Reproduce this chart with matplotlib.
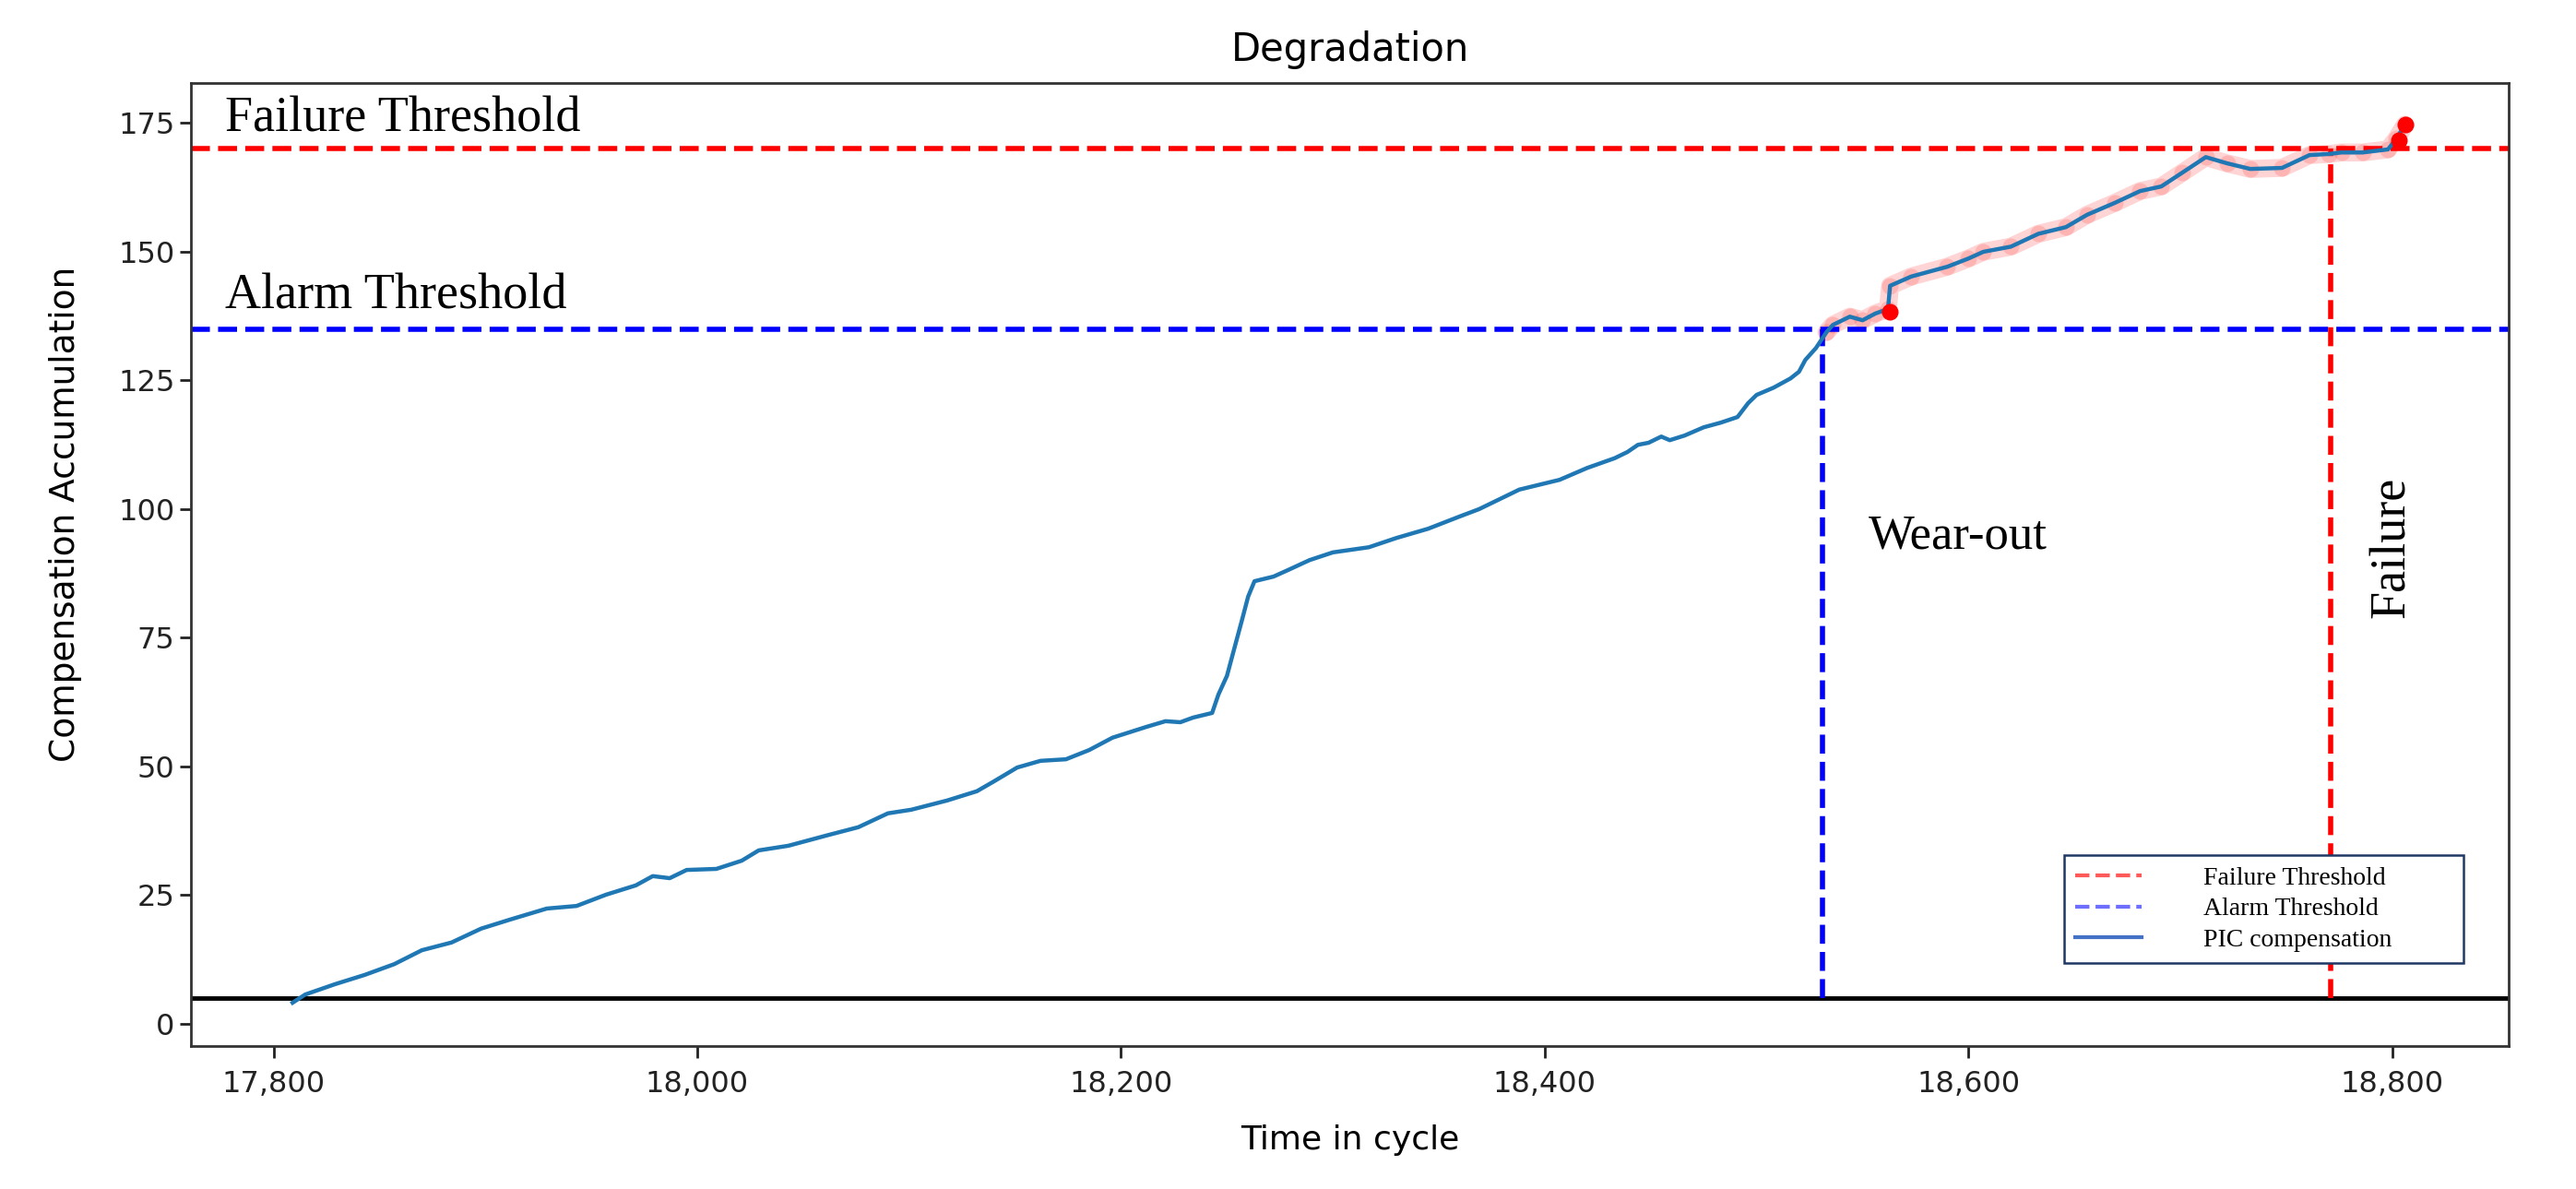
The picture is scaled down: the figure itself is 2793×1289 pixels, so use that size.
import matplotlib
matplotlib.use("Agg")
import matplotlib.pyplot as plt
from matplotlib.lines import Line2D
from matplotlib.ticker import StrMethodFormatter

# values
cycles = [17809, 17815, 17829, 17843, 17857, 17870, 17884, 17898, 17912, 17929,
          17943, 17957, 17971, 17979, 17987, 17995, 18009, 18021, 18029, 18043,
          18062, 18076, 18090, 18101, 18118, 18132, 18140, 18151, 18162, 18174,
          18185, 18196, 18212, 18221, 18228, 18234, 18243, 18246, 18250, 18253,
          18257, 18260, 18263, 18272, 18279, 18289, 18300, 18317, 18330, 18345,
          18360, 18369, 18388, 18407, 18420, 18433, 18439, 18444, 18449, 18455,
          18459, 18466, 18475, 18483, 18491, 18496, 18500, 18508, 18516, 18520,
          18523, 18528, 18533, 18536, 18544, 18550, 18556, 18562, 18563, 18573,
          18590, 18600, 18607, 18620, 18633, 18646, 18656, 18669, 18681, 18691,
          18701, 18712, 18722, 18733, 18748, 18761, 18770, 18776, 18786, 18798,
          18802, 18806]
compensation = [4.1, 5.7, 7.7, 9.5, 11.6, 14.3, 15.8, 18.5, 20.3, 22.4,
                22.9, 25.1, 26.9, 28.7, 28.3, 29.9, 30.1, 31.7, 33.7, 34.6,
                36.7, 38.2, 40.9, 41.6, 43.4, 45.2, 47.1, 49.8, 51.1, 51.4,
                53.2, 55.6, 57.7, 58.8, 58.6, 59.5, 60.4, 64.0, 67.6, 72.2,
                78.3, 83.0, 86.0, 86.9, 88.2, 90.1, 91.6, 92.6, 94.4, 96.2,
                98.6, 100.0, 103.8, 105.7, 108.0, 109.9, 111.1, 112.5, 112.9, 114.1,
                113.4, 114.3, 115.9, 116.8, 117.9, 120.6, 122.2, 123.6, 125.4, 126.7,
                129.0, 131.3, 134.4, 135.8, 137.4, 136.7, 138.0, 138.9, 143.4, 145.2,
                147.1, 148.7, 150.0, 151.0, 153.5, 154.8, 157.2, 159.5, 161.8, 162.7,
                165.4, 168.4, 167.2, 166.1, 166.3, 168.8, 169.0, 169.3, 169.3, 169.9,
                172.0, 174.7]

failure_threshold = 170
alarm_threshold = 135
baseline = 5
alarm_cycle = 18531
failure_cycle = 18771
event_cycles = [18563, 18806, 18803]
event_values = [138.4, 174.7, 171.6]
legend_labels = ['Failure Threshold', 'Alarm Threshold', 'PIC compensation']

fig = plt.figure(figsize=(27.93, 12.89), dpi=100)
ax = fig.add_axes([0.0741, 0.1203, 0.8998, 0.8099])

# highlighted part after alarm crossing
after_x = [c for c in cycles if c >= alarm_cycle]
after_y = compensation[len(cycles) - len(after_x):]
ax.plot(after_x, after_y, color='red', alpha=0.17, linewidth=14, solid_capstyle='round')
ax.plot(after_x, after_y, 'o', color='red', alpha=0.15, markersize=13, markeredgewidth=0)

ax.plot(cycles, compensation, color='#1f77b4', linewidth=3.2, zorder=3)
ax.plot(event_cycles, event_values, 'o', color='red', markersize=12, zorder=4)

ax.axhline(failure_threshold, color='red', linestyle='--', linewidth=4)
ax.axhline(alarm_threshold, color='blue', linestyle='--', linewidth=4)
ax.axhline(baseline, color='black', linewidth=3.5)
ax.plot([alarm_cycle, alarm_cycle], [baseline, alarm_threshold], color='blue', linestyle='--', linewidth=4)
ax.plot([failure_cycle, failure_cycle], [baseline, failure_threshold], color='red', linestyle='--', linewidth=4)

ax.set_xlim(17761, 18855)
ax.set_ylim(-4.3, 182.8)
ax.xaxis.set_major_formatter(StrMethodFormatter('{x:,.0f}'))
ax.tick_params(labelsize=23, length=9, width=2, colors='#222222')
ax.tick_params(axis='x', pad=10)
for s in ax.spines.values():
    s.set_linewidth(2)
    s.set_color('#333333')

ax.set_title('Degradation', fontsize=30, pad=17)
ax.set_xlabel('Time in cycle', fontsize=26, labelpad=20)
ax.set_ylabel('Compensation Accumulation', fontsize=27)
ax.yaxis.set_label_coords(-0.047, 0.552)

# annotations (serif, like the original overlay)
serif = 'Liberation Serif'
ax.text(17777, 173.3, 'Failure Threshold', family=serif, fontsize=39, va='baseline')
ax.text(17777, 138.9, 'Alarm Threshold', family=serif, fontsize=39, va='baseline')
ax.text(18553, 92.3, 'Wear-out', family=serif, fontsize=38, va='baseline')
ax.text(18800, 92.5, 'Failure', family=serif, fontsize=39, rotation=90, ha='center', va='center')

handles = [Line2D([], [], color='#ff5a5a', linestyle='--', linewidth=3),
           Line2D([], [], color='#6e6eff', linestyle='--', linewidth=3),
           Line2D([], [], color='#4472c4', linewidth=3)]
leg = ax.legend(handles, legend_labels, loc='lower left', mode='expand',
                bbox_to_anchor=(0.808, 0.086, 0.1725, 0.108),
                borderaxespad=0, fancybox=False, framealpha=1, labelspacing=0.28,
                handlelength=2.6, handletextpad=2.4, borderpad=0.45,
                prop={'family': serif, 'size': 20})
leg.get_frame().set_edgecolor('#1f3864')
leg.get_frame().set_linewidth(1.8)

fig.savefig('out.png', dpi=100)
